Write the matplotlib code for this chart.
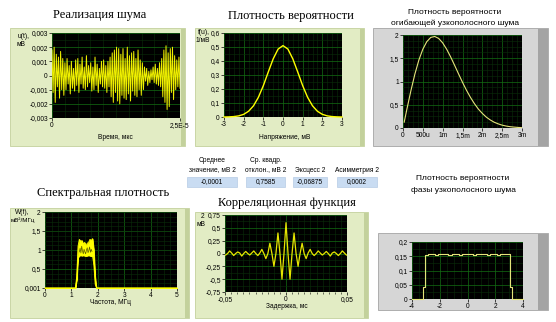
import matplotlib.pyplot as plt
import numpy as np
from matplotlib.patches import Rectangle
from matplotlib.ticker import AutoMinorLocator

W, H = 556, 322
SANS = ['Liberation Sans', 'DejaVu Sans']
SERIF = ['Liberation Serif', 'DejaVu Serif']
plt.rcParams['font.family'] = SANS

# --- noise realisation, values in 1e-3 mV
noise = [1.8, -1.2, 2.0, -1.9, 1.5, -0.8, 1.3, -1.6, 1.7, -1.0, 1.2, -1.4,
         0.9, -1.0, 1.2, -0.6, 0.7, -1.3, 1.0, -0.9, 0.5, -1.1, 1.1, -0.7, 1.2, -1.2,
         0.8, -0.6, 1.3, -0.9, 0.6, -1.0, 1.4, -0.8, 0.7, -0.5, 0.9, -1.1, 0.6, -1.0,
         1.3, -0.7, 0.8, -1.2, 0.5, -0.6, 1.0, -0.8, 1.1, -0.9, 0.7, -1.2, 1.0, -0.8,
         1.3, -1.5, 1.6, -1.9, 1.8, -1.2, 2.0, -1.8, 1.9, -2.0, 1.5, -1.4, 1.9, -1.6,
         1.2, -1.7, 2.0, -1.3, 1.4, -1.8, 1.6, -1.1, 1.7, -1.4, 1.2, -1.5, 1.8, -1.0,
         1.1, -1.4,
         0.9, -1.0, 0.6, -0.4, 0.5, -0.7, 0.3, -0.5, 0.4, -0.3, 0.6, -0.5, 0.8, -0.6,
         0.5, -0.7, 0.9, -0.8,
         1.2, -1.5, 1.8, -1.9, 2.1, -2.4, 1.6, -2.2, 1.9, -1.2, 2.0, -1.7, 1.4, -1.0,
         1.1, -0.8, 1.3, -0.9]
noise_t_end = 2.5e-5

# --- probability density of noise
u_vals = [-3, -2.75, -2.5, -2.25, -2, -1.75, -1.5, -1.25, -1, -0.75, -0.5, -0.25, 0,
          0.25, 0.5, 0.75, 1, 1.25, 1.5, 1.75, 2, 2.25, 2.5, 2.75, 3]
f_u = [0.0, 0.001, 0.003, 0.008, 0.019, 0.041, 0.080, 0.141, 0.224, 0.321, 0.415, 0.485, 0.51,
       0.485, 0.415, 0.321, 0.224, 0.141, 0.080, 0.041, 0.019, 0.008, 0.003, 0.001, 0.0]

# --- envelope density (r in 1e-3)
r_vals = [0.03, 0.1, 0.2, 0.3, 0.4, 0.5, 0.6, 0.7, 0.8, 0.9, 1.0, 1.1, 1.2, 1.3, 1.4, 1.5,
          1.6, 1.7, 1.8, 1.9, 2.0, 2.1, 2.2, 2.3, 2.4, 2.5, 2.6, 2.7, 2.8, 2.9, 3.0]
f_r = [0.125, 0.413, 0.805, 1.161, 1.461, 1.695, 1.857, 1.948, 1.968, 1.926, 1.831, 1.695,
       1.531, 1.350, 1.164, 0.983, 0.812, 0.659, 0.524, 0.407, 0.314, 0.234, 0.173, 0.124,
       0.089, 0.061, 0.042, 0.028, 0.019, 0.012, 0.008]

# --- spectral density band
f_band = [0.0, 1.15, 1.2, 1.25, 1.3, 1.35, 1.4, 1.45, 1.5, 1.55, 1.6, 1.65, 1.7, 1.75, 1.8,
          1.85, 1.9, 1.95, 5.0]
w_upper = [0.001, 0.001, 0.3, 1.1, 1.28, 1.22, 1.25, 1.15, 1.2, 1.1, 1.18, 1.2, 1.28, 1.25,
           1.3, 1.0, 0.3, 0.001, 0.001]
w_lower = [0.001, 0.001, 0.2, 0.8, 0.85, 0.86, 0.85, 0.86, 0.85, 0.84, 0.85, 0.86, 0.85,
           0.84, 0.85, 0.6, 0.1, 0.001, 0.001]
# dark gaps inside the noisy band
f_gap = [1.3, 1.33, 1.36, 1.39, 1.42, 1.45, 1.48, 1.51, 1.54, 1.57, 1.6, 1.63, 1.66, 1.69,
         1.72, 1.75, 1.78]
w_gap = [0.95, 1.05, 0.92, 1.1, 0.98, 0.9, 1.02, 0.95, 0.9, 1.0, 1.06, 0.93, 0.99, 1.08,
         0.94, 1.02, 0.96]

# --- correlation function, step 0.00165 ms
tau_step = 0.00165
corr = [-0.03, 0.0, 0.05, 0.01, -0.04, 0.0, 0.03, 0.01, -0.05, 0.0, 0.04, 0.0, -0.03, 0.01,
        0.05, 0.0, -0.04, 0.01, 0.08, 0.0, -0.1, 0.0, 0.2, 0.0, -0.25, 0.0, 0.4, 0.0, -0.5,
        0.0, 0.6, 0.0, -0.5, 0.0, 0.4, 0.0, -0.25, 0.0, 0.2, 0.0, -0.1, 0.01, 0.08, 0.0,
        -0.04, 0.0, 0.05, 0.01, -0.03, 0.0, 0.04, 0.0, -0.05, 0.01, 0.03, 0.0, -0.04, 0.0,
        0.05, 0.01, -0.03]

# --- phase density
phi = [-4.0, -3.6, -3.3, -3.15, -3.0, -2.75, -2.5, -2.25, -2.0, -1.75, -1.5, -1.25, -1.0,
       -0.75, -0.5, -0.25, 0.0, 0.25, 0.5, 0.75, 1.0, 1.25, 1.5, 1.75, 2.0, 2.25, 2.5, 2.75,
       3.0, 3.15, 3.3, 3.6, 4.0]
f_phi = [0, 0, 0, 0.042, 0.156, 0.157, 0.159, 0.156, 0.157, 0.158, 0.157, 0.156, 0.158,
         0.158, 0.156, 0.157, 0.157, 0.158, 0.156, 0.157, 0.159, 0.157, 0.156, 0.157, 0.158,
         0.156, 0.157, 0.159, 0.157, 0.042, 0, 0, 0]

# --- indicators
ind_labels = ['Среднее\nзначение, мВ 2', 'Ср. квадр.\nотклон., мВ 2', 'Эксцесс 2', 'Асимметрия 2']
ind_values = ['-0,0001', '0,7585', '-0,06875', '0,0002']

fig = plt.figure(figsize=(W / 100, H / 100), dpi=100)
fig.patch.set_facecolor('white')


def box(x0, y0, x1, y1):
    return [x0 / W, 1 - y1 / H, (x1 - x0) / W, (y1 - y0) / H]


def rect(x0, y0, x1, y1, fc, ec='none', lw=0):
    fig.patches.append(Rectangle((x0 / W, 1 - y1 / H), (x1 - x0) / W, (y1 - y0) / H,
                                 transform=fig.transFigure, fc=fc, ec=ec, lw=lw, zorder=-2))


def frame(x0, y0, x1, y1, fc, dark, strip):
    rect(x0, y0, x1, y1, fc, ec=dark, lw=0.6)
    rect(x1 - strip, y0 + 1, x1, y1, dark)


def txt(x, y, s, size, fam=SANS, **kw):
    fig.text(x / W, 1 - y / H, s, fontsize=size, family=fam, ha=kw.pop('ha', 'center'),
             va=kw.pop('va', 'center'), **kw)


def graph(r, xlim, ylim, xt, xl, yt, yl, xm=5, ym=2):
    ax = fig.add_axes(box(*r))
    ax.set_facecolor('black')
    ax.set_xlim(*xlim)
    ax.set_ylim(*ylim)
    ax.set_xticks(xt, xl)
    ax.set_yticks(yt, yl)
    ax.xaxis.set_minor_locator(AutoMinorLocator(xm))
    ax.yaxis.set_minor_locator(AutoMinorLocator(ym))
    ax.grid(which='major', color='#136e13', lw=0.5)
    ax.grid(which='minor', color='#0a2e0a', lw=0.4)
    ax.set_axisbelow(True)
    ax.tick_params(which='major', labelsize=4.8, length=2, width=0.5, pad=1)
    ax.tick_params(which='minor', length=0)
    for s in ax.spines.values():
        s.set_visible(False)
    return ax


GREEN = '#e2ecc4'
GREEN_D = '#c3d19c'
GREY = '#d6d6d6'
GREY_D = '#a4a4a4'

frame(10, 28, 185, 146, GREEN, GREEN_D, 4)
frame(195, 28, 364, 146, GREEN, GREEN_D, 4)
frame(373, 28, 548, 146, GREY, GREY_D, 10)
frame(10, 208, 189, 318, GREEN, GREEN_D, 4)
frame(195, 212, 368, 318, GREEN, GREEN_D, 4)
frame(378, 233, 548, 310, GREY, GREY_D, 10)

# titles
txt(100, 15, 'Реализация шума', 9, SERIF)
txt(291, 16, 'Плотность вероятности', 9, SERIF)
txt(455, 13, 'Плотность вероятности', 6)
txt(455, 23, 'огибающей узкополосного шума', 6)
txt(103, 193, 'Спектральная плотность', 9, SERIF)
txt(287, 203, 'Корреляционная функция', 9, SERIF)
txt(463, 178, 'Плотность вероятности', 6)
txt(463, 190, 'фазы узкополосного шума', 6)

# 1. noise
ax = graph((52, 33, 180, 118), (0, noise_t_end), (-0.003, 0.003),
           [0, noise_t_end], ['0', '2,5E-5'],
           [-0.003, -0.002, -0.001, 0, 0.001, 0.002, 0.003],
           ['-0,003', '-0,002', '-0,001', '0', '0,001', '0,002', '0,003'], xm=10, ym=2)
ax.plot(np.linspace(0, noise_t_end, len(noise)), np.array(noise) * 1e-3, color='#f0f000', lw=0.7)
txt(115, 137, 'Время, мкс', 4.8)
txt(24, 36, 'u(t),', 4.8)
txt(21, 44, 'мВ', 4.8)

# 2. density
ax = graph((224, 33, 342, 117), (-3, 3), (0, 0.6),
           [-3, -2, -1, 0, 1, 2, 3], ['-3', '-2', '-1', '0', '1', '2', '3'],
           [0, 0.1, 0.2, 0.3, 0.4, 0.5, 0.6], ['0', '0,1', '0,2', '0,3', '0,4', '0,5', '0,6'],
           xm=4, ym=2)
ax.plot(u_vals, f_u, color='#ffff00', lw=1.0, clip_on=False)
txt(285, 137, 'Напряжение, мВ', 4.8)
txt(204, 33, 'f(u),', 4.8)
txt(203, 40, '1/мВ', 4.8)

# 3. envelope
ax = graph((403, 35, 522, 128), (0, 3e-3), (0, 2),
           [0, 0.5e-3, 1e-3, 1.5e-3, 2e-3, 2.5e-3, 3e-3],
           ['0', '500u', '1m', '1,5m', '2m', '2,5m', '3m'],
           [0, 0.5, 1, 1.5, 2], ['0', '0,5', '1', '1,5', '2'], xm=4, ym=4)
ax.plot(np.array(r_vals) * 1e-3, f_r, color='#e4e47a', lw=0.8)

# 4. spectrum
ax = graph((45, 212, 177, 288), (0, 5), (0.001, 2),
           [0, 1, 2, 3, 4, 5], ['0', '1', '2', '3', '4', '5'],
           [0.001, 0.5, 1, 1.5, 2], ['0,001', '0,5', '1', '1,5', '2'], xm=4, ym=4)
ax.fill_between(f_band, w_lower, w_upper, color='#ffff00', lw=0.6)
ax.plot(f_band, w_upper, color='#ffff00', lw=0.6)
ax.plot(f_band, w_lower, color='#ffff00', lw=0.6, clip_on=False)
ax.plot(f_gap, w_gap, color='#5a5a00', lw=0.5)
txt(110, 302, 'Частота, МГц', 4.8)
txt(22, 213, 'W(f),', 4.8)
txt(23, 220, 'мВ²/МГц', 4.5)

# 5. correlation
ax = graph((225, 215, 347, 292), (-0.05, 0.05), (-0.75, 0.75),
           [-0.05, 0, 0.05], ['-0,05', '0', '0,05'],
           [-0.75, -0.5, -0.25, 0, 0.25, 0.5, 0.75],
           ['-0,75', '-0,5', '-0,25', '0', '0,25', '0,5', '0,75'], xm=10, ym=2)
ax.tick_params(axis='x', which='minor', length=1.2, width=0.4)
tau = (np.arange(len(corr)) - len(corr) // 2) * tau_step
ax.plot(tau, corr, color='#e6e600', lw=0.9)
txt(287, 307, 'Задержка, мс', 4.8)
txt(203, 216, '2', 4.8)
txt(201, 225, 'мВ', 4.8)

# 6. phase
ax = graph((412, 242, 523, 299), (-4, 4), (0, 0.2),
           [-4, -2, 0, 2, 4], ['-4', '-2', '0', '2', '4'],
           [0, 0.05, 0.1, 0.15, 0.2], ['0', '0,05', '0,1', '0,15', '0,2'], xm=4, ym=2)
ax.plot(phi, f_phi, color='#e4e47a', lw=0.8, drawstyle='steps-mid', clip_on=False)

# indicators
ind_x = [(187, 237), (246, 285), (293, 327), (337, 377)]
for (x0, x1), lab, val in zip(ind_x, ind_labels, ind_values):
    c = (x0 + x1) / 2
    lines = lab.split('\n')
    if len(lines) == 2:
        txt(c, 160, lines[0], 4.8)
    txt(c, 170, lines[-1], 4.8)
    rect(x0, 177, x1, 187, '#c9dcf2', ec='#aac2e0', lw=0.4)
    txt(c, 182, val, 4.8)

fig.savefig('out.png', dpi=100, facecolor='white')
